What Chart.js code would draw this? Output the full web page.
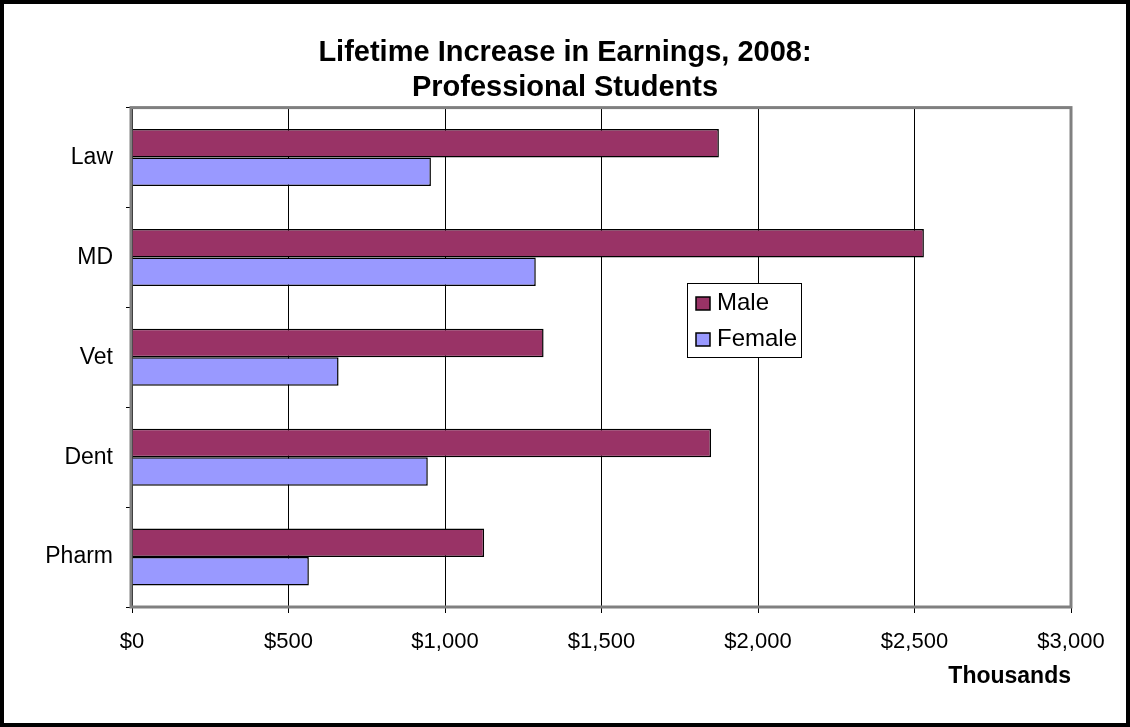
<!DOCTYPE html>
<html>
<head>
<meta charset="utf-8">
<script src="https://cdn.jsdelivr.net/npm/chart.js@4"></script>
<style>
  html, body { margin: 0; padding: 0; background: #fff; }
  #wrap { width: 1130px; height: 727px; position: relative; }
</style>
</head>
<body>
<div id="wrap"><canvas id="myChart" width="1130" height="727"></canvas></div>
<script>
// categories (top to bottom)
var categorias = ['Law', 'MD', 'Vet', 'Dent', 'Pharm'];
// thousands of dollars
var valoresMale = [1875, 2530, 1315, 1850, 1125];
var valoresFemale = [955, 1290, 660, 945, 565];
var tituloLineas = ['Lifetime Increase in Earnings, 2008:', 'Professional Students'];
var tituloEje = 'Thousands';

var FONT = '"Liberation Sans", Arial, sans-serif';

// marco negro exterior + borde gris del area del grafico + leyenda
var marcoPlugin = {
    id: 'marco',
    beforeDraw: function (chart) {
        var ctx = chart.ctx;
        ctx.save();
        ctx.fillStyle = '#fff';
        ctx.fillRect(0, 0, chart.width, chart.height);
        ctx.restore();
    },
    afterDatasetsDraw: function (chart) {
        var ctx = chart.ctx;
        var a = chart.chartArea;
        ctx.save();
        ctx.strokeStyle = '#808080';
        ctx.lineWidth = 3;
        ctx.strokeRect(a.left - 1, a.top, a.right - a.left + 1, a.bottom - a.top);
        ctx.restore();
    },
    afterDraw: function (chart) {
        var ctx = chart.ctx;
        ctx.save();
        // leyenda dentro del area
        var lx = 687, ly = 283, lw = 114, lh = 74;
        ctx.fillStyle = '#fff';
        ctx.fillRect(lx, ly, lw, lh);
        ctx.strokeStyle = '#000';
        ctx.lineWidth = 1;
        ctx.strokeRect(lx + 0.5, ly + 0.5, lw, lh);
        ctx.font = '24px ' + FONT;
        ctx.textBaseline = 'alphabetic';
        chart.data.datasets.forEach(function (ds, i) {
            var y = ly + 26 + i * 36;
            ctx.fillStyle = ds.backgroundColor;
            ctx.fillRect(lx + 9, y - 12, 14, 13);
            ctx.strokeStyle = '#000';
            ctx.lineWidth = 1.5;
            ctx.strokeRect(lx + 9, y - 12, 14, 13);
            ctx.fillStyle = '#000';
            ctx.fillText(ds.label, lx + 30, y + 1);
        });
        // marco negro
        ctx.strokeStyle = '#000';
        ctx.lineWidth = 4;
        ctx.strokeRect(2, 2, chart.width - 4, chart.height - 4);
        ctx.restore();
    }
};

var ctx = document.getElementById('myChart').getContext('2d');
var myChart = new Chart(ctx, {
    type: 'bar',
    data: {
        labels: categorias,
        datasets: [{
            label: 'Male',
            data: valoresMale,
            backgroundColor: '#993366',
            borderColor: '#000',
            borderWidth: 1.5,
            categoryPercentage: 0.57,
            barPercentage: 1.0
        },
        {
            label: 'Female',
            data: valoresFemale,
            backgroundColor: '#9999FF',
            borderColor: '#000',
            borderWidth: 1.5,
            categoryPercentage: 0.57,
            barPercentage: 1.0
        }]
    },
    options: {
        indexAxis: 'y',
        responsive: false,
        animation: false,
        layout: {
            padding: { top: 4, left: 0, right: 0, bottom: 0 }
        },
        scales: {
            x: {
                min: 0,
                max: 3000,
                ticks: {
                    stepSize: 500,
                    padding: 16,
                    color: '#000',
                    font: { family: FONT, size: 22 },
                    maxRotation: 0,
                    callback: function (value) {
                        return '$' + Number(value).toLocaleString('en-US');
                    }
                },
                grid: {
                    color: '#000',
                    lineWidth: 1,
                    tickLength: 6
                },
                border: { display: false },
                title: {
                    display: true,
                    text: tituloEje,
                    align: 'end',
                    color: '#000',
                    font: { family: FONT, size: 23, weight: 'bold' },
                    padding: { top: 0, bottom: 37 }
                },
                afterFit: function (scale) { scale.height = 120; }
            },
            y: {
                ticks: {
                    padding: 13,
                    color: '#000',
                    font: { family: FONT, size: 23 }
                },
                grid: {
                    offset: true,
                    drawOnChartArea: false,
                    color: '#000',
                    tickLength: 6
                },
                border: { display: false },
                afterFit: function (scale) { scale.width = 132; }
            },
            // eje vacio a la derecha: deja el margen y mantiene el titulo centrado
            yDer: {
                type: 'category',
                position: 'right',
                grid: { display: false },
                ticks: { display: false },
                border: { display: false },
                afterFit: function (scale) { scale.width = 59; }
            }
        },
        plugins: {
            legend: { display: false },
            tooltip: { enabled: false },
            title: {
                display: true,
                text: tituloLineas,
                color: '#000',
                font: { family: FONT, size: 29, weight: 'bold', lineHeight: 1.2 },
                padding: { top: 32, bottom: 2 }
            }
        }
    },
    plugins: [marcoPlugin]
});
</script>
</body>
</html>
